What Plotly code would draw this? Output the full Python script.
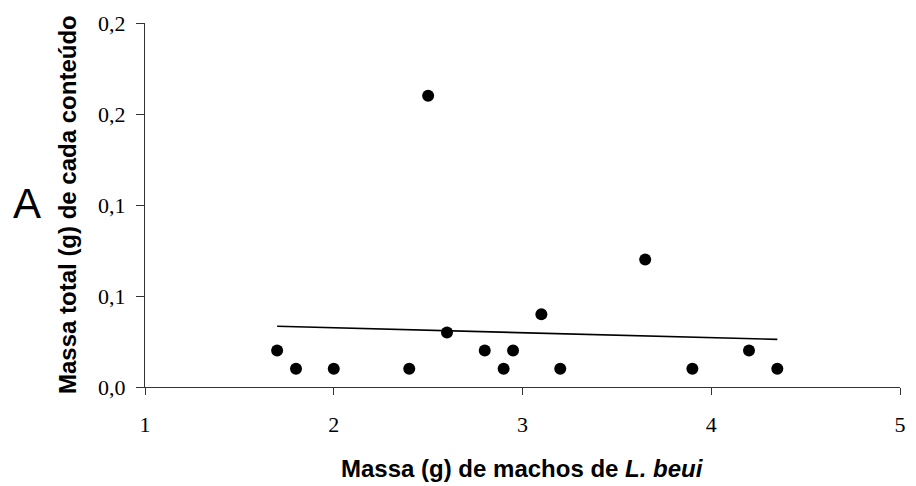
import numpy as np
import plotly.graph_objects as go

# Data
massa_machos = [1.7, 1.8, 2.0, 2.4, 2.5, 2.6, 2.8, 2.9, 2.95, 3.1, 3.2, 3.65, 3.9, 4.2, 4.35]
massa_conteudo = [0.02, 0.01, 0.01, 0.01, 0.16, 0.03, 0.02, 0.01, 0.02, 0.04, 0.01, 0.07, 0.01, 0.02, 0.01]
x_tick_vals = [1, 2, 3, 4, 5]
x_tick_text = ["1", "2", "3", "4", "5"]
y_tick_vals = [0.0, 0.05, 0.10, 0.15, 0.20]
y_tick_text = ["0,0", "0,1", "0,1", "0,2", "0,2"]

# Linear trend line (least squares)
slope, intercept = np.polyfit(massa_machos, massa_conteudo, 1)
x_fit = [min(massa_machos), max(massa_machos)]
y_fit = [slope * v + intercept for v in x_fit]

fig = go.Figure()
fig.add_trace(go.Scatter(
    x=massa_machos, y=massa_conteudo, mode="markers",
    marker=dict(color="black", size=12),
    showlegend=False,
))
fig.add_trace(go.Scatter(
    x=x_fit, y=y_fit, mode="lines",
    line=dict(color="black", width=1.6),
    showlegend=False,
))

tick_font = dict(family="Liberation Serif, Times New Roman, serif", size=22, color="black")
title_font = dict(family="Liberation Sans, Arial, sans-serif", size=24, color="black")

fig.update_layout(
    width=916, height=486,
    margin=dict(l=145, r=10, t=23, b=99),
    plot_bgcolor="white", paper_bgcolor="white",
    xaxis=dict(
        range=[1, 5], tickvals=x_tick_vals, ticktext=x_tick_text,
        showgrid=False, zeroline=False, showline=True, linecolor="#333", linewidth=1,
        ticks="outside", ticklen=7, tickcolor="#333", tickfont=tick_font,
        ticklabelstandoff=11,
    ),
    yaxis=dict(
        range=[0, 0.2], tickvals=y_tick_vals, ticktext=y_tick_text,
        showgrid=False, zeroline=False, showline=True, linecolor="#333", linewidth=1,
        ticks="outside", ticklen=8, tickcolor="#333", tickfont=tick_font,
        ticklabelstandoff=6,
    ),
    annotations=[
        dict(text="<b>Massa (g) de machos de <i>L. beui</i></b>", xref="paper", yref="paper",
             x=0.5, y=0, yshift=-81, showarrow=False, font=title_font, xanchor="center", yanchor="middle"),
        dict(text="<b>Massa total (g) de cada conteúdo</b>", xref="paper", yref="paper",
             x=0, xshift=-78, y=0.5, showarrow=False, font=title_font, textangle=-90,
             xanchor="center", yanchor="middle"),
        dict(text="A", xref="paper", yref="paper", x=0, xshift=-118, y=0.5, yshift=2,
             showarrow=False, font=dict(family="Liberation Sans, Arial, sans-serif", size=42, color="black"),
             xanchor="center", yanchor="middle"),
    ],
)

fig.write_html("out.html")
